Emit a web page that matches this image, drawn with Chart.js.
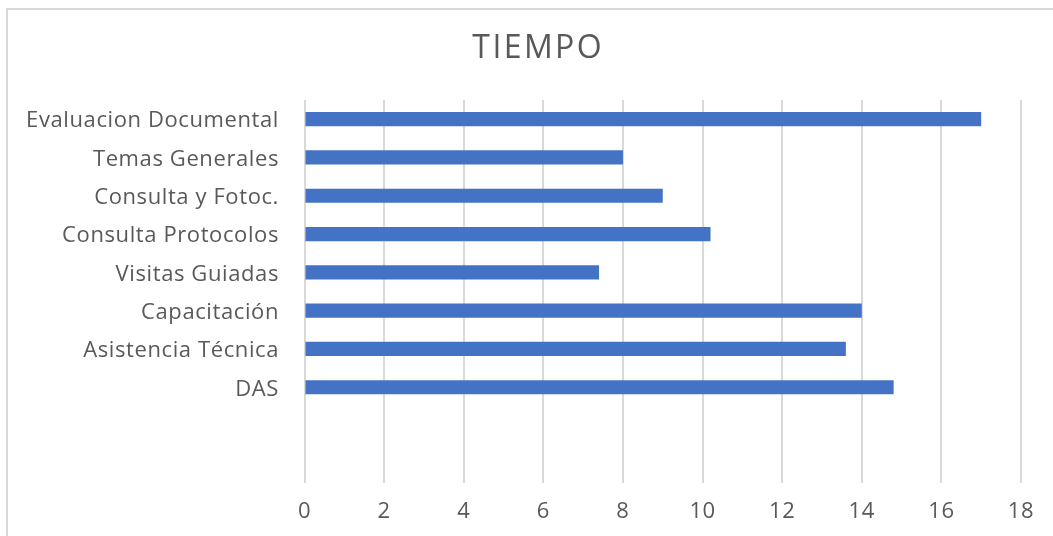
<!DOCTYPE html>
<html>
<head>
<meta charset="utf-8">
<script src="https://cdn.jsdelivr.net/npm/chart.js@4/dist/chart.umd.min.js"></script>
<style>
  html, body { margin: 0; padding: 0; background: #fff; overflow: hidden; }
  #wrap { position: relative; width: 1053px; height: 536px; }
  #frame { position: absolute; left: 6px; top: 8px; width: 1200px; height: 800px;
           border-left: 2px solid #d9d9d9; border-top: 2px solid #d9d9d9; box-sizing: border-box; }
  #c { position: absolute; left: 0; top: 0; }
</style>
</head>
<body>
<div id="wrap">
  <div id="frame"></div>
  <canvas id="c" width="1053" height="536"></canvas>
</div>
<script>
const categories = ["Evaluacion Documental", "Temas Generales", "Consulta y Fotoc.", "Consulta Protocolos",
  "Visitas Guiadas", "Capacitación", "Asistencia Técnica", "DAS", "", ""];
const tiempo = [17, 8, 9, 10.2, 7.4, 14, 13.6, 14.8, null, null];
const xTicks = [0, 2, 4, 6, 8, 10, 12, 14, 16, 18];

const FONT = "'Open Sans', 'Liberation Sans', sans-serif";
const LABEL_SPACING = '0.6px';
const TITLE_SPACING = '2.4px';

const spacingPlugin = {
  id: 'spacing',
  beforeDraw(chart) {
    chart.ctx.letterSpacing = LABEL_SPACING;
  },
  afterLayout(chart) {
    const tb = chart.titleBlock;
    if (tb) {
      tb.left = 55.4;
      if (!tb._patched) {
        const orig = tb.draw;
        tb.draw = function (area) {
          const ctx = chart.ctx;
          const prev = ctx.letterSpacing;
          ctx.letterSpacing = TITLE_SPACING;
          orig.call(this, area);
          ctx.letterSpacing = prev;
        };
        tb._patched = true;
      }
    }
  },
  afterDraw(chart) {
    chart.ctx.letterSpacing = '0px';
  }
};

new Chart(document.getElementById('c'), {
  type: 'bar',
  data: {
    labels: categories,
    datasets: [{
      label: 'TIEMPO',
      data: tiempo,
      backgroundColor: '#4472C4',
      borderWidth: 0,
      categoryPercentage: 1,
      barPercentage: 0.37
    }]
  },
  plugins: [spacingPlugin],
  options: {
    indexAxis: 'y',
    responsive: false,
    animation: false,
    layout: { padding: { left: 0, right: 32, top: 0, bottom: 0 } },
    plugins: {
      legend: { display: false },
      tooltip: { enabled: false },
      title: {
        display: true,
        text: 'TIEMPO',
        color: '#595959',
        font: { family: FONT, size: 32, weight: 'normal', lineHeight: 1.2 },
        padding: { top: 30, bottom: 31.6 }
      }
    },
    scales: {
      x: {
        min: 0, max: 18,
        afterBuildTicks: s => { s.ticks = xTicks.map(v => ({ value: v })); },
        afterFit: s => { s.height = 53; },
        border: { display: false },
        grid: { color: '#d9d9d9', lineWidth: 2, drawTicks: false },
        ticks: { color: '#595959', padding: 16, font: { family: FONT, size: 22 } }
      },
      y: {
        afterFit: s => { s.width = 304.5; },
        border: { display: false },
        grid: { display: false, drawTicks: false },
        ticks: { color: '#595959', padding: 25.5, labelOffset: 2, font: { family: FONT, size: 22 }, autoSkip: false }
      }
    }
  }
});
</script>
</body>
</html>
